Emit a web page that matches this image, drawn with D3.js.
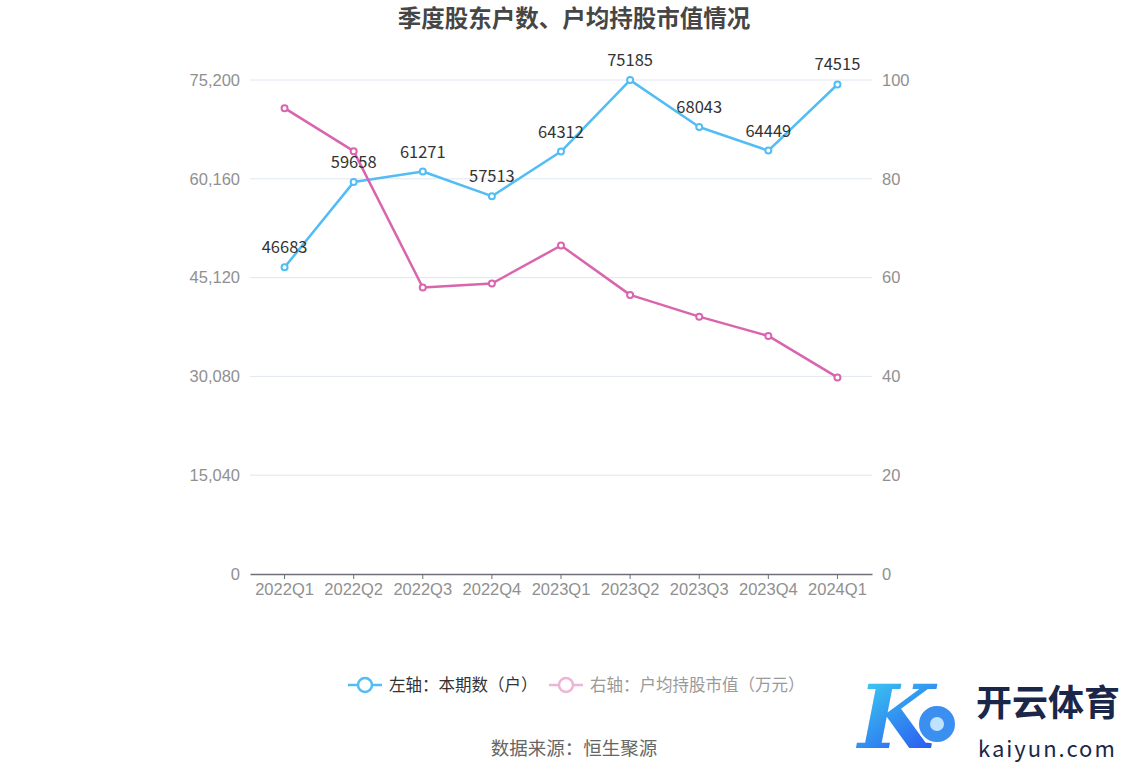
<!DOCTYPE html>
<html><head><meta charset="utf-8">
<script src="https://cdn.jsdelivr.net/npm/d3@7/dist/d3.min.js"></script>
<style>body{margin:0;background:#fff;font-family:"Microsoft YaHei","Noto Sans CJK SC","Noto Sans",sans-serif;}</style>
</head><body><svg id="c" width="1148" height="776"></svg>
<script>
const categories = ["2022Q1","2022Q2","2022Q3","2022Q4","2023Q1","2023Q2","2023Q3","2023Q4","2024Q1"];
const holders = [46683,59658,61271,57513,64312,75185,68043,64449,74515];
const avgValue = [94.3,85.6,58.0,58.8,66.5,56.5,52.1,48.2,39.8];
const leftTicks = [0,15040,30080,45120,60160,75200];
const rightTicks = [0,20,40,60,80,100];

const svg = d3.select("#c");
const L=250,R=872,T=80,B=574;
const blue="#52bdf4", pink="#d965ae";
const x = d3.scaleBand().domain(categories).range([L,R]);
const yL = d3.scaleLinear().domain([0,75200]).range([B,T]);
const yR = d3.scaleLinear().domain([0,100]).range([B,T]);
const cx = d => x(d)+x.bandwidth()/2;

// title
svg.append("text").attr("x",574).attr("y",27).attr("text-anchor","middle")
  .attr("font-size",23.5).attr("font-weight","bold").attr("fill","#464646").text("季度股东户数、户均持股市值情况");

// grid
svg.append("g").selectAll("line").data(leftTicks.slice(1)).join("line")
  .attr("x1",L).attr("x2",R).attr("y1",d=>yL(d)).attr("y2",d=>yL(d))
  .attr("stroke","#e0e6f1").attr("stroke-width",1);

// left axis labels
const gl = svg.append("g").attr("transform",`translate(${L},0)`)
  .call(d3.axisLeft(yL).tickValues(leftTicks).tickSize(0).tickPadding(10).tickFormat(d3.format(",")));
gl.select(".domain").remove();
gl.selectAll("text").attr("font-size",16.5).attr("fill","#909090").attr("font-family","inherit");

const gr = svg.append("g").attr("transform",`translate(${R},0)`)
  .call(d3.axisRight(yR).tickValues(rightTicks).tickSize(0).tickPadding(10));
gr.select(".domain").remove();
gr.selectAll("text").attr("font-size",16.5).attr("fill","#909090").attr("font-family","inherit");

// x axis
const gx = svg.append("g").attr("transform",`translate(0,${B})`)
  .call(d3.axisBottom(x).tickSize(5).tickPadding(4).tickSizeOuter(0));
gx.select(".domain").attr("stroke","#6e7079").attr("stroke-width",1.5);
gx.selectAll(".tick line").attr("stroke","#6e7079");
gx.selectAll("text").attr("font-size",16.5).attr("fill","#909090").attr("font-family","inherit");

// lines
function series(vals, y, color){
  const line = d3.line().x((d,i)=>cx(categories[i])).y(d=>y(d));
  svg.append("path").datum(vals).attr("d",line).attr("fill","none")
    .attr("stroke",color).attr("stroke-width",2.5).attr("stroke-linejoin","round");
  svg.append("g").selectAll("circle").data(vals).join("circle")
    .attr("cx",(d,i)=>cx(categories[i])).attr("cy",d=>y(d)).attr("r",3)
    .attr("fill","#fff").attr("stroke",color).attr("stroke-width",2);
}
series(holders,yL,blue);
series(avgValue,yR,pink);

// labels
svg.append("g").selectAll("text").data(holders).join("text")
  .attr("x",(d,i)=>cx(categories[i])).attr("y",d=>yL(d)-14)
  .attr("text-anchor","middle").attr("font-size",16.5).attr("fill","#333").text(d=>d);

// legend
const lg = svg.append("g");
lg.append("line").attr("x1",348).attr("x2",382).attr("y1",685).attr("y2",685).attr("stroke",blue).attr("stroke-width",2.5);
lg.append("circle").attr("cx",365).attr("cy",685).attr("r",7).attr("fill","#fff").attr("stroke",blue).attr("stroke-width",2.5);
lg.append("text").attr("x",389).attr("y",691).attr("font-size",16.5).attr("fill","#333").text("左轴：本期数（户）");
lg.append("line").attr("x1",549).attr("x2",583).attr("y1",685).attr("y2",685).attr("stroke","#efb3d6").attr("stroke-width",2.5);
lg.append("circle").attr("cx",566).attr("cy",685).attr("r",7).attr("fill","#fff").attr("stroke","#efb3d6").attr("stroke-width",2.5);
lg.append("text").attr("x",590).attr("y",691).attr("font-size",16.5).attr("fill","#9a9a9a").text("右轴：户均持股市值（万元）");

// source
svg.append("text").attr("x",574).attr("y",755).attr("text-anchor","middle").attr("font-size",18.5).attr("fill","#666").text("数据来源：恒生聚源");

// watermark
const defs = svg.append("defs");
const grad = defs.append("linearGradient").attr("id","kg").attr("x1","0").attr("y1","0").attr("x2","0.6").attr("y2","1");
grad.append("stop").attr("offset","0").attr("stop-color","#3ee0f0");
grad.append("stop").attr("offset","1").attr("stop-color","#2a5bf0");
const wm = svg.append("g");
wm.append("text").attr("x",858).attr("y",748).attr("font-size",88).attr("font-style","italic").attr("font-weight","bold")
  .attr("fill","url(#kg)").attr("font-family","DejaVu Serif, serif").text("K");
wm.append("circle").attr("cx",937).attr("cy",724).attr("r",19).attr("fill","#3b8ff0").attr("stroke","#fff").attr("stroke-width",2);
wm.append("circle").attr("cx",937).attr("cy",724).attr("r",7).attr("fill","#bfe3ff");
wm.append("text").attr("x",976).attr("y",716).attr("font-size",36).attr("font-weight","bold").attr("fill","#1a2748").text("开云体育");
wm.append("text").attr("x",978).attr("y",757).attr("font-size",22).attr("fill","#1a2748").attr("letter-spacing",2).text("kaiyun.com");
</script></body></html>
